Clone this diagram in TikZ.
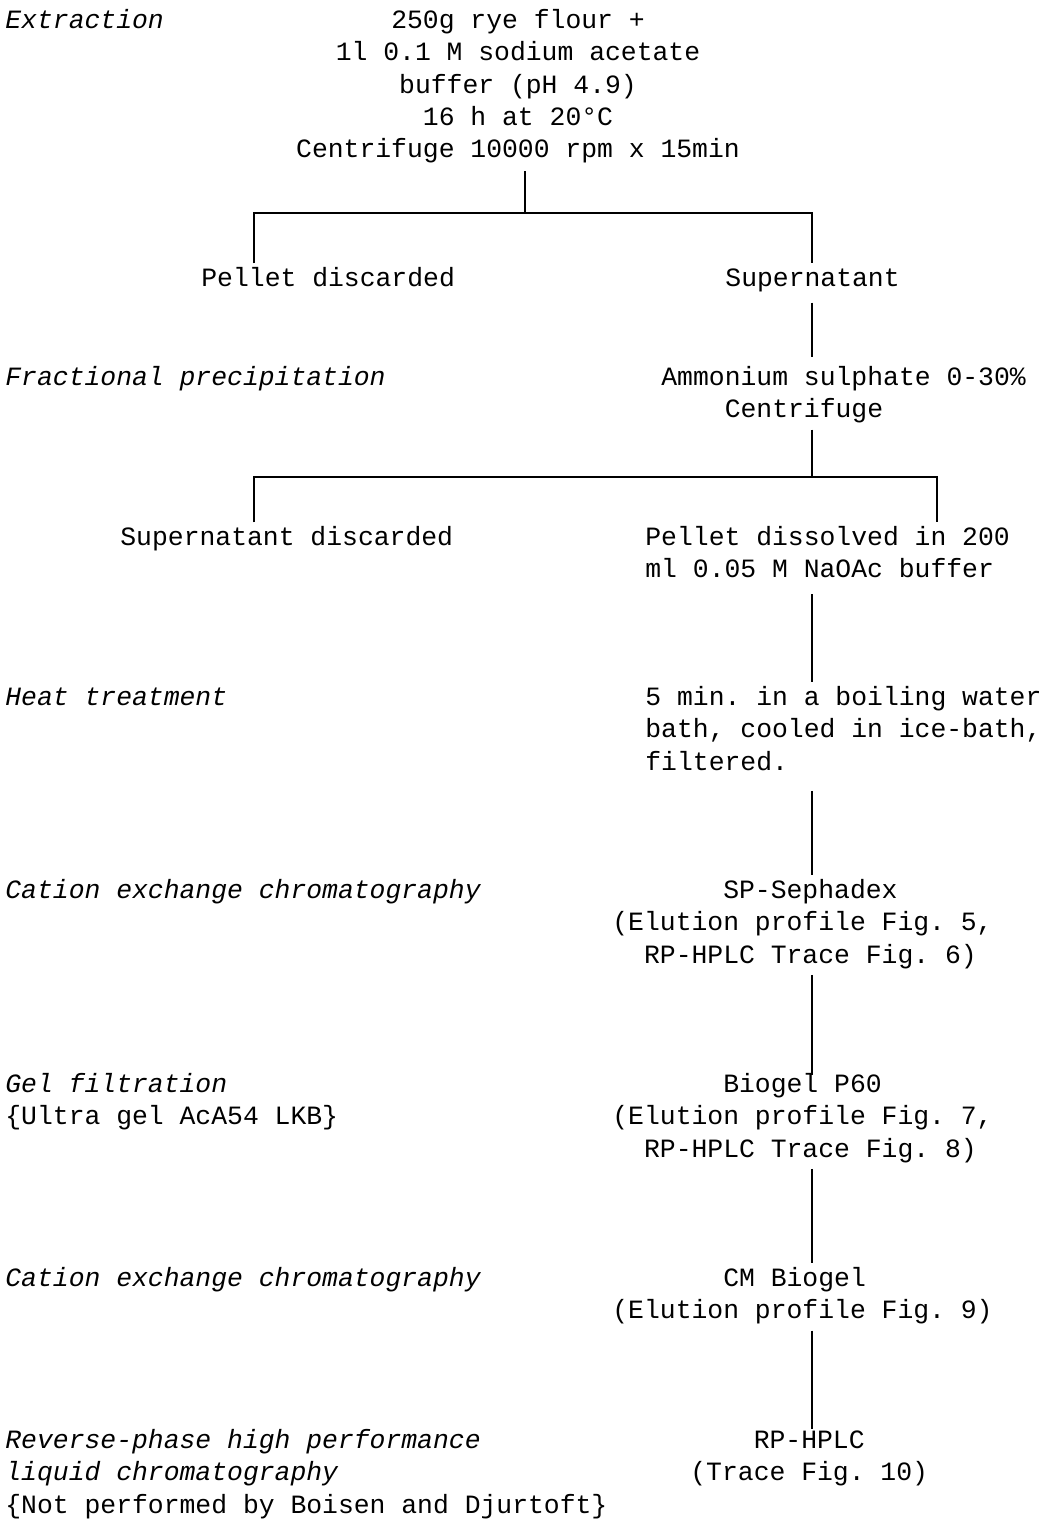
\documentclass[tikz,border=0pt]{standalone}
\usepackage{fontspec}
\setmainfont{Liberation Mono}
\usepackage{tikz}
\usetikzlibrary{calc}
\frenchspacing

\begin{document}
\begin{tikzpicture}[x=0.5pt, y=-0.5pt,
    every node/.style={inner sep=0pt, font=\fontsize{13.2}{16.15}\selectfont},
    stage/.style={anchor=north west, align=left},
    method/.style={anchor=north west, align=left, font=\fontsize{13.2}{16.15}\selectfont\itshape},
    link/.style={line width=1pt}]
    % 0. Page size as in the scan
    \useasboundingbox (0,0) rectangle (1045,1520);

    % 1. Method names (left column)
    \node[method] (extr) at (5,5.4) {\strut Extraction};
    \node[method] (frac) at (5,362.4) {\strut Fractional precipitation};
    \node[method] (heat) at (5,682.4) {\strut Heat treatment};
    \node[method] (cat1) at (5,875.4) {\strut Cation exchange chromatography};
    \node[method] (gel) at (5,1069.4) {\strut Gel filtration\\{\upshape\{Ultra gel AcA54 LKB\}}};
    \node[method] (cat2) at (5,1263.4) {\strut Cation exchange chromatography};
    \node[method] (rev) at (5,1425.4) {\strut Reverse-phase high performance\\liquid chromatography\\{\upshape\{Not performed by Boisen and Djurtoft\}}};

    % 2. Preparation steps (right column)
    \node[anchor=north, align=center] (flour) at (518,5.4) {\strut 250g rye flour +\\1l 0.1 M sodium acetate\\buffer (pH 4.9)\\16 h at 20°C\\Centrifuge 10000 rpm x 15min};
    \node[stage] (pd) at (201,263.4) {\strut Pellet discarded};
    \node[stage] (sup) at (725,263.4) {\strut Supernatant};
    \node[stage] (amm) at (661,362.4) {\strut Ammonium sulphate 0-30\%\\\hspace*{2.4em}Centrifuge};
    \node[stage] (supd) at (120,522.4) {\strut Supernatant discarded};
    \node[stage] (pdis) at (645,522.4) {\strut Pellet dissolved in 200\\ml 0.05 M NaOAc buffer};
    \node[stage] (boil) at (645,682.4) {\strut 5 min. in a boiling water\\bath, cooled in ice-bath,\\filtered.};
    \node[stage] (sp) at (612,875.4) {\strut\hspace*{4.2em}SP-Sephadex\\(Elution profile Fig. 5,\\\hspace*{1.2em}RP-HPLC Trace Fig. 6)};
    \node[stage] (bio) at (612,1069.4) {\strut\hspace*{4.2em}Biogel P60\\(Elution profile Fig. 7,\\\hspace*{1.2em}RP-HPLC Trace Fig. 8)};
    \node[stage] (cm) at (612,1263.4) {\strut\hspace*{4.2em}CM Biogel\\(Elution profile Fig. 9)};
    \node[stage] (rp) at (690,1425.4) {\strut\hspace*{2.4em}RP-HPLC\\(Trace Fig. 10)};

    % 3. Branch points
    \coordinate (j1) at (525,213);
    \coordinate (l1) at (254,213);
    \coordinate (r1) at (812,213);
    \coordinate (j2) at (812,477);
    \coordinate (l2) at (254,477);
    \coordinate (r2) at (937,477);

    % 4. Connecting lines
    \draw[link, shorten <=4pt] (flour.south -| j1) -- (j1);
    \draw[link] (l1 |- pd.north) -- (l1) -- (r1) -- (r1 |- sup.north);
    \draw[link, shorten <=3pt, shorten >=2.5pt] (sup.south -| j2) -- (amm.north -| j2);
    \draw[link, shorten <=3pt] (amm.south -| j2) -- (j2);
    \draw[link] (l2 |- supd.north) -- (l2) -- (r2) -- (r2 |- pdis.north);
    \draw[link, shorten <=8pt] (pdis.south -| j2) -- (boil.north -| j2);
    \draw[link, shorten <=10pt] (boil.south -| j2) -- (sp.north -| j2);
    \draw[link, shorten <=3pt, shorten >=-3pt] (sp.south -| j2) -- (bio.north -| j2);
    \draw[link, shorten <=3pt] (bio.south -| j2) -- (cm.north -| j2);
    \draw[link, shorten <=3pt, shorten >=-2pt] (cm.south -| j2) -- (rp.north -| j2);

\end{tikzpicture}
\end{document}
